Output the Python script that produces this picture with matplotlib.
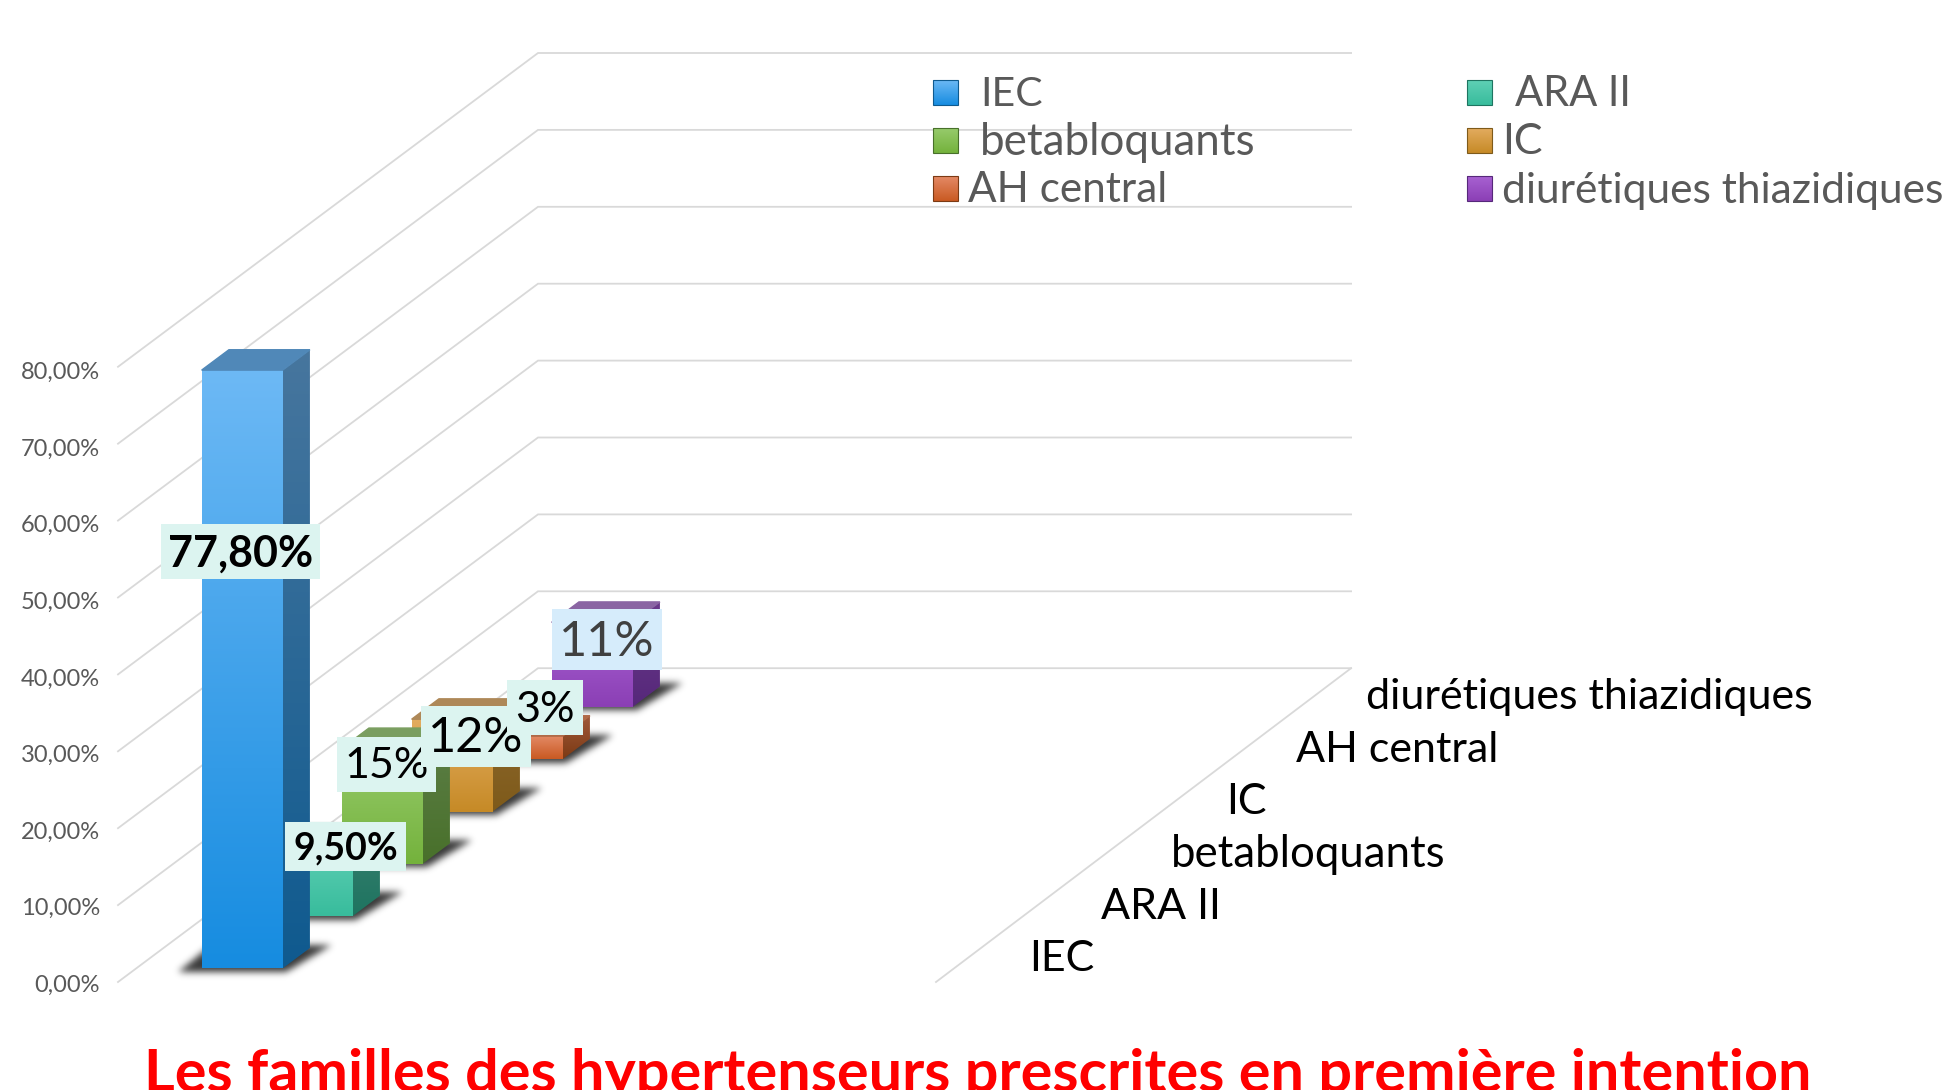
import numpy as np
import matplotlib
matplotlib.use("Agg")
import matplotlib.pyplot as plt
from matplotlib.patches import Polygon, Rectangle
from matplotlib.path import Path
from matplotlib.colors import LinearSegmentedColormap

# ---- data ----
categories = ["IEC", "ARA II", "betabloquants", "IC", "AH central", "diurétiques thiazidiques"]
values = [77.8, 9.5, 15, 12, 3, 11]
value_labels = ["77,80%", "9,50%", "15%", "12%", "3%", "11%"]
label_bold = [True, True, False, False, False, False]
legend_labels = ["IEC", "betabloquants", "AH central", "ARA II", "IC", "diurétiques thiazidiques"]
legend_order = [0, 2, 4, 1, 3, 5]
ticks = [0, 10, 20, 30, 40, 50, 60, 70, 80]
tick_labels = ["0,00%", "10,00%", "20,00%", "30,00%", "40,00%", "50,00%", "60,00%", "70,00%", "80,00%"]
title = "Les familles des hypertenseurs prescrites en première intention"
front_top = ["#6DB9F5", "#5FD0B5", "#97CB6C", "#E3AC60", "#E48A67", "#A862D2"]
front_bot = ["#168CE0", "#38BC9C", "#74B23C", "#C68A26", "#C95A22", "#8B3FB5"]
side_top = ["#47769E", "#3A8070", "#5E7F48", "#8F6A30", "#A0593A", "#6A3A8A"]
side_bot = ["#0F5A8F", "#1E7460", "#48702A", "#7E5A1A", "#7C3A14", "#56287A"]
top_face = ["#5088B8", "#4A9A88", "#7A9E60", "#AE8858", "#B06A48", "#8A65A3"]

FONT = "Lato"
W, H, DPI = 1953, 1090, 100
fig = plt.figure(figsize=(W / DPI, H / DPI), dpi=DPI, facecolor="white")
ax = fig.add_axes([0, 0, 1, 1])
ax.set_xlim(0, W)
ax.set_ylim(H, 0)
ax.axis("off")

# ---- oblique projection: width fraction, depth (category units), value (%) ----
X0, Y0 = 118.0, 982.0
WIDTH = 818.0
DX, DY = 70.0, -52.3
VS = 7.69

def proj(w, d, v):
    return (X0 + w * WIDTH + d * DX, Y0 + d * DY - v * VS)

N = len(categories)
GRID = "#D9D9D9"
for t in ticks:
    p = [proj(0, 0, t), proj(0, N, t), proj(0.994, N, t)]
    ax.plot(*zip(*p), color=GRID, lw=1.3, zorder=1, solid_joinstyle="miter")
ax.plot(*zip(*[proj(0.994, N, 0), proj(1, 0, 0)]), color=GRID, lw=1.3, zorder=1)

for t, s in zip(ticks, tick_labels):
    x, y = proj(0, 0, t)
    ax.text(x - 18, y + 3.3 + 0.03 * t, s, ha="right", va="center", fontsize=17, color="#595959",
            family=FONT, zorder=9)

cat_dx = [93, 95, 95, 80, 80, 80]
cat_size = [31, 31, 31.5, 31, 31, 31]
for i, c in enumerate(categories):
    x, y = proj(1, i, 0)
    ax.text(x + cat_dx[i], y - 23, c, ha="left", va="center", fontsize=cat_size[i], color="black",
            family=FONT, zorder=9)

BW0, BW1 = 0.08, 0.179
D0, D1 = 0.26, 0.65

def gradient_poly(pts, c1, c2, z):
    pts = np.array(pts)
    cmap = LinearSegmentedColormap.from_list("g", [c1, c2])
    im = ax.imshow(np.linspace(0, 1, 256).reshape(-1, 1), cmap=cmap, aspect="auto", zorder=z,
                   extent=[pts[:, 0].min(), pts[:, 0].max(), pts[:, 1].max(), pts[:, 1].min()],
                   interpolation="bilinear")
    clip = Polygon(pts, closed=True, transform=ax.transData, fc="none", ec="none")
    ax.add_patch(clip)
    im.set_clip_path(clip)

def soft_shadow(pts, z, blur=5, strength=0.78):
    pts = np.array(pts)
    pad = 3 * blur
    x0, x1 = int(pts[:, 0].min()) - pad, int(pts[:, 0].max()) + pad
    y0, y1 = int(pts[:, 1].min()) - pad, int(pts[:, 1].max()) + pad
    gx, gy = np.meshgrid(np.arange(x0, x1), np.arange(y0, y1))
    mask = Path(pts).contains_points(np.c_[gx.ravel(), gy.ravel()]).reshape(gx.shape).astype(float)
    kernel = np.exp(-0.5 * (np.arange(-pad, pad + 1) / (blur * 0.7)) ** 2)
    kernel /= kernel.sum()
    mask = np.apply_along_axis(lambda r: np.convolve(r, kernel, mode="same"), 0, mask)
    mask = np.apply_along_axis(lambda r: np.convolve(r, kernel, mode="same"), 1, mask)
    rgba = np.zeros(mask.shape + (4,))
    rgba[..., 3] = mask * strength
    ax.imshow(rgba, extent=[x0, x1, y1, y0], aspect="auto", zorder=z, interpolation="bilinear")

for i, v in enumerate(values):
    z = 20 - 2 * i
    a = proj(BW0, i + D0, 0)
    b = proj(BW1, i + D0, 0)
    c = proj(BW1, i + D1, 0)
    soft_shadow([(a[0] - 24, a[1] + 3), (b[0] + 3, b[1] + 3), (c[0] + 22, c[1] - 4), (a[0] + 10, c[1] - 4)], z - 0.5)
    gradient_poly([proj(BW0, i + D0, v), proj(BW1, i + D0, v), b, a], front_top[i], front_bot[i], z)
    gradient_poly([proj(BW1, i + D0, v), proj(BW1, i + D1, v), c, b], side_top[i], side_bot[i], z)
    ax.add_patch(Polygon([proj(BW0, i + D0, v), proj(BW1, i + D0, v), proj(BW1, i + D1, v), proj(BW0, i + D1, v)],
                         closed=True, fc=top_face[i], ec=top_face[i], lw=1, zorder=z + 0.1))

boxes = [(161, 524, 159, 55), (285, 822, 121, 49), (337, 737, 99, 55),
         (421, 706, 110, 61), (507, 680, 76, 55), (552, 609, 110, 61)]
box_col = ["#DCF4F0"] * 5 + ["#D6ECFB"]
txt_col = ["black"] * 5 + ["#404040"]
txt_size = [31, 27, 31, 35, 31, 35]
for i in range(N):
    x, y, w, h = boxes[i]
    ax.add_patch(Rectangle((x, y), w, h, fc=box_col[i], ec="none", zorder=30 + (i if i != 1 else 6)))
    ax.text(x + w / 2, y + h / 2 + 2, value_labels[i], ha="center", va="center", fontsize=txt_size[i],
            fontweight="bold" if label_bold[i] else "normal", color=txt_col[i], family=FONT,
            zorder=31 + (i if i != 1 else 6))

leg_x = [933, 1467]
leg_y = [92, 140, 188]
leg_txt_x = [[980, 980, 968], [1515, 1502, 1502]]
leg_size = [29.5, 31.6, 30.4, 30, 31, 30.6]
for k, cat_i in enumerate(legend_order):
    col, row = k // 3, k % 3
    x, y = leg_x[col], leg_y[row]
    sq = [(x, y - 12), (x + 25, y - 12), (x + 25, y + 13), (x, y + 13)]
    gradient_poly(sq, front_top[cat_i], front_bot[cat_i], 5)
    ax.add_patch(Polygon(sq, closed=True, fc="none", ec=side_bot[cat_i], lw=0.8, zorder=5.1))
    ax.text(leg_txt_x[col][row], y + 2.5, legend_labels[k], ha="left", va="center", fontsize=leg_size[k],
            color="#595959", family=FONT, zorder=6)

ax.text(978, 1092, title, ha="center", va="baseline", fontsize=42.7, fontweight="bold", color="#FF0000",
        family=FONT, zorder=40)

ax.set_xlim(0, W)
ax.set_ylim(H, 0)
fig.savefig("out.png", dpi=DPI, facecolor="white")
